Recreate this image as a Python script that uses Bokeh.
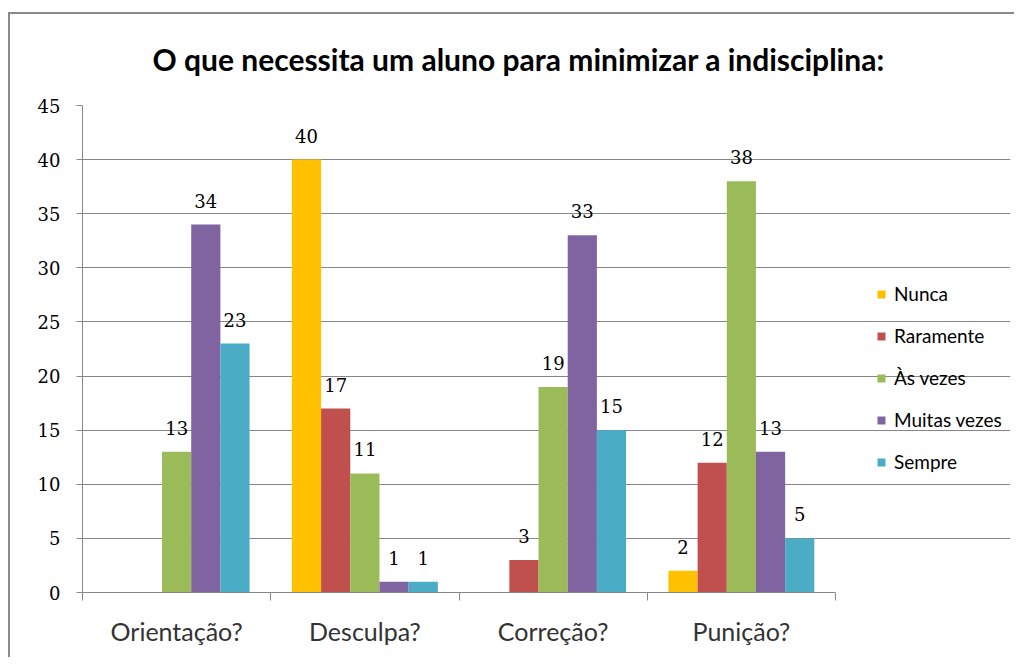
from bokeh.plotting import figure
from bokeh.models import ColumnDataSource, Range1d, FixedTicker, Legend, LegendItem
from bokeh.transform import dodge
from bokeh.core.properties import value
from bokeh.embed import file_html
from bokeh.resources import INLINE

title_text = "O que necessita um aluno para minimizar a indisciplina:"
categories = ["Orientação?", "Desculpa?", "Correção?", "Punição?"]
series_names = ["Nunca", "Raramente", "Às vezes", "Muitas vezes", "Sempre"]
nunca = [0, 40, 0, 2]
raramente = [0, 17, 3, 12]
as_vezes = [13, 11, 19, 38]
muitas_vezes = [34, 1, 33, 13]
sempre = [23, 1, 15, 5]
colors = ["#FFC000", "#C0504D", "#9BBB59", "#8064A2", "#4BACC6"]
y_ticks = [0, 5, 10, 15, 20, 25, 30, 35, 40, 45]

series_values = [nunca, raramente, as_vezes, muitas_vezes, sempre]

GRID = "#878787"
num_font = "DejaVu Serif"
sans_font = "Lato"

W, H = 1006, 645
ML, MR, MT, MB = 72, 6, 91, 67
frame_px = W - ML - MR          # drawable frame width in px
plot_px = 753                    # px occupied by the category area
n = len(categories)
x_end = n * frame_px / plot_px   # extra room on the right holds the legend

p = figure(width=W, height=H, output_backend="svg", toolbar_location=None,
           x_range=Range1d(0, x_end), y_range=Range1d(0, 45),
           min_border_left=ML, min_border_right=MR, min_border_top=MT, min_border_bottom=MB,
           title=title_text)
p.styles = {"margin-left": "8px", "margin-top": "12px",
            "border-top": "2px solid #8a8a8a", "border-left": "2px solid #8a8a8a"}
p.outline_line_color = None
p.background_fill_color = "white"
p.border_fill_color = "white"

p.title.text_font = sans_font
p.title.text_font_size = "30px"
p.title.text_font_style = "bold"
p.title.text_color = "#000000"
p.title.align = "left"
p.title.vertical_align = "top"
p.title.offset = 70
p.title.standoff = 53

centers = [i + 0.5 for i in range(n)]
bar_w = 0.155
offsets = [(j - 2) * bar_w for j in range(len(series_names))]

renderers = []
for name, vals, col, off in zip(series_names, series_values, colors, offsets):
    src = ColumnDataSource(dict(x=centers, top=vals))
    r = p.vbar(x=dodge("x", off, range=p.x_range), top="top", width=bar_w, source=src,
               fill_color=col, line_color=None)
    renderers.append(r)
    lx = [c for c, v in zip(centers, vals) if v > 0]
    lv = [v for v in vals if v > 0]
    lsrc = ColumnDataSource(dict(x=lx, y=lv, t=[str(v) for v in lv]))
    p.text(x=dodge("x", off, range=p.x_range), y="y", text="t", source=lsrc,
           text_align="center", text_baseline="alphabetic", y_offset=-24,
           text_font=value(num_font), text_font_size="18px", text_color="#000000")

# axes
p.xaxis.ticker = FixedTicker(ticks=centers, minor_ticks=list(range(n + 1)))
p.xaxis.major_label_overrides = {c: cat for c, cat in zip(centers, categories)}
p.xaxis.bounds = (0, n)
p.xaxis.major_tick_line_color = None
p.xaxis.minor_tick_out = 8
p.xaxis.minor_tick_in = 0
p.xaxis.minor_tick_line_color = GRID
p.xaxis.axis_line_color = GRID
p.xaxis.major_label_text_font = sans_font
p.xaxis.major_label_text_font_size = "25px"
p.xaxis.major_label_text_color = "#333333"
p.xaxis.major_label_standoff = 15

p.yaxis.ticker = FixedTicker(ticks=y_ticks, minor_ticks=[])
p.yaxis.axis_line_color = GRID
p.yaxis.major_tick_line_color = GRID
p.yaxis.major_tick_out = 6
p.yaxis.major_tick_in = 0
p.yaxis.major_label_text_font = num_font
p.yaxis.major_label_text_font_size = "18px"
p.yaxis.major_label_text_color = "#000000"
p.yaxis.major_label_standoff = 16

p.xgrid.grid_line_color = None
p.ygrid.grid_line_color = GRID
p.ygrid.ticker = FixedTicker(ticks=y_ticks)
p.ygrid.bounds = (0, n)

legend = Legend(items=[LegendItem(label=s, renderers=[r]) for s, r in zip(series_names, renderers)],
                location=(794, 119), orientation="vertical",
                glyph_width=10, glyph_height=10, label_standoff=8,
                label_height=20, spacing=19, padding=0, margin=0,
                border_line_color=None, background_fill_alpha=0,
                label_text_font=sans_font, label_text_font_size="19px", label_text_color="#000000")
p.add_layout(legend)

open("out.html", "w").write(file_html(p, INLINE))
